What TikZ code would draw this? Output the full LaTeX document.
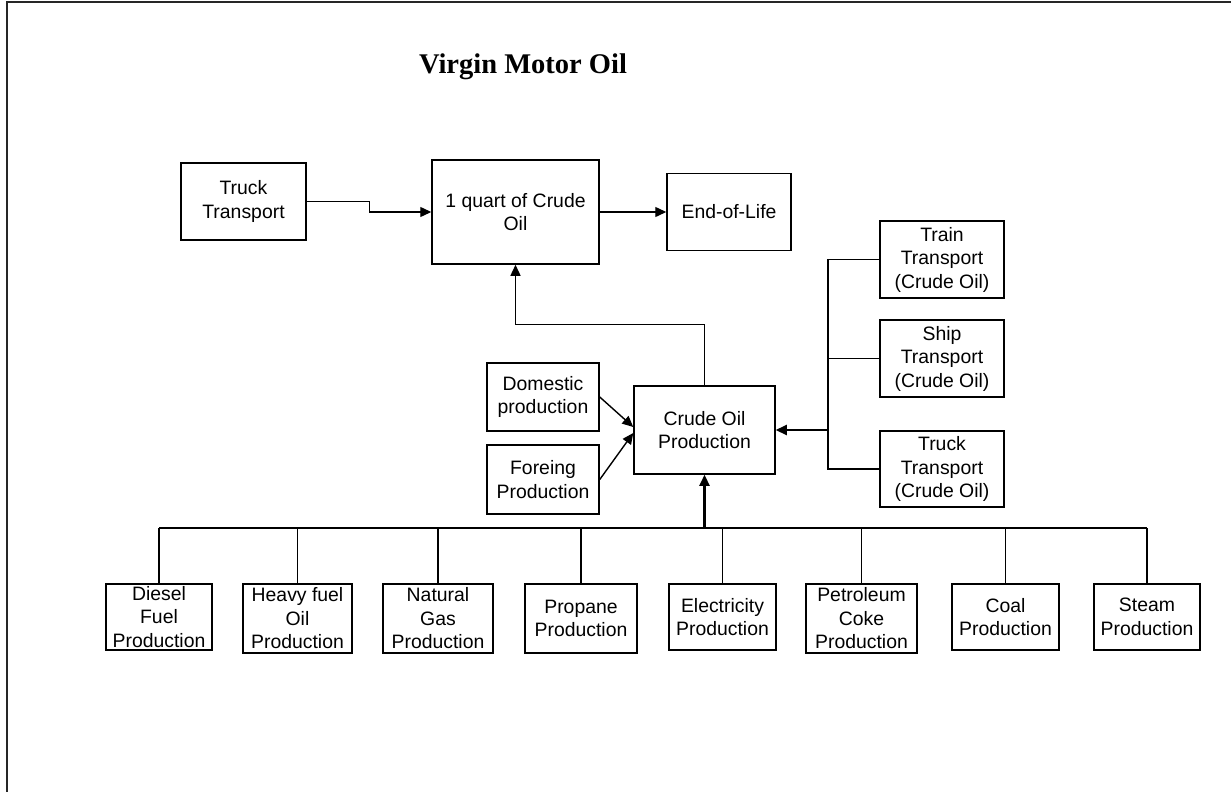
\documentclass[tikz,border=0pt]{standalone}
\usepackage{fontspec}
\setmainfont{Liberation Serif}
\newfontfamily\arialfont{Liberation Sans}
\usetikzlibrary{arrows.meta}
\tikzset{
  boxnode/.style={draw=black, line width=1.5pt, inner sep=0pt, align=center,
    font=\arialfont\fontsize{19.4}{23.5}\selectfont},
  link/.style={draw=black, line width=1.4pt},
  arr/.style={link, -{Triangle[length=11pt,width=10pt]}},
  thickarr/.style={draw=black, line width=2.2pt, -{Triangle[length=11pt,width=10pt]}},
  frameline/.style={draw=black!85, line width=2pt}
}
\begin{document}
\begin{tikzpicture}[x=1pt,y=-1pt]
\useasboundingbox (0,0) rectangle (1231,792);
% frame (top and left edges only)
\coordinate (fTL) at (6.5,1.8);
\coordinate (fTR) at (1231,1.8);
\coordinate (fBL) at (6.5,792);
\draw[frameline] (fTR) -- (fTL) -- (fBL);

% title
\node[anchor=base, inner sep=0pt, font=\fontsize{28.5}{32}\selectfont\bfseries] (title) at (523,74) {Virgin Motor Oil};

% upper row
\node[boxnode, minimum width=125pt, minimum height=77pt] (truck) at (243.5,201.5) {Truck\\Transport};
\node[boxnode, minimum width=167pt, minimum height=104pt] (quart) at (515.5,212) {1 quart of Crude\\Oil};
\node[boxnode, minimum width=124pt, minimum height=77pt] (eol) at (729,212) {End-of-Life};

% right transport boxes
\node[boxnode, minimum width=124pt, minimum height=77pt] (train) at (942,259.5) {Train\\Transport\\(Crude Oil)};
\node[boxnode, minimum width=124pt, minimum height=77pt] (ship) at (942,358.5) {Ship\\Transport\\(Crude Oil)};
\node[boxnode, minimum width=124pt, minimum height=76pt] (trk2) at (942,469) {Truck\\Transport\\(Crude Oil)};

% middle
\node[boxnode, minimum width=141pt, minimum height=88pt] (crude) at (704.5,430) {Crude Oil\\Production};
\node[boxnode, minimum width=112pt, minimum height=68pt] (dom) at (543,397) {Domestic\\production};
\node[boxnode, minimum width=112pt, minimum height=69pt] (for) at (543,479.5) {Foreing\\Production};

% bottom row
\node[boxnode, minimum width=106pt, minimum height=66pt] (diesel) at (159,617) {Diesel\\Fuel\\Production};
\node[boxnode, minimum width=109pt, minimum height=69pt] (heavy) at (297.5,618.5) {Heavy fuel\\Oil\\Production};
\node[boxnode, minimum width=110pt, minimum height=69pt] (natgas) at (438,618.5) {Natural\\Gas\\Production};
\node[boxnode, minimum width=112pt, minimum height=69pt] (propane) at (581,618.5) {Propane\\Production};
\node[boxnode, minimum width=107pt, minimum height=66pt] (elec) at (722.5,617) {Electricity\\Production};
\node[boxnode, minimum width=111pt, minimum height=69pt] (petro) at (861.5,618.5) {Petroleum\\Coke\\Production};
\node[boxnode, minimum width=107pt, minimum height=66pt] (coal) at (1005.5,617) {Coal\\Production};
\node[boxnode, minimum width=106pt, minimum height=66pt] (steam) at (1147,617) {Steam\\Production};

% connectors upper
\draw[arr] (truck.east) -- ++(63,0) |- (quart.west);
\draw[arr] (quart.east) -- (quart.east -| eol.west);
\draw[arr] (crude.north) -- ++(0,-61) -| (quart.south);

% domestic / foreign
\draw[arr] (dom.east) -- ([yshift=3pt]crude.west);
\draw[arr] (for.east) -- ([yshift=-3pt]crude.west);

% transport bus
\coordinate (tb) at (828,430);
\draw[link] (train.west) -- (train.west -| tb) -- (trk2.west -| tb) -- (trk2.west);
\draw[link] (ship.west) -- (ship.west -| tb);
\draw[thickarr] (tb) -- (crude.east);

% bottom bus
\coordinate (busL) at (159,528);
\coordinate (busR) at (1147,528);
\draw[link] (busL) -- (busR);
\foreach \n in {diesel,heavy,natgas,propane,elec,petro,coal,steam}{
  \draw[link] (\n.north) -- (\n.north |- busL);
}
\draw[draw=black, line width=2.2pt] ([xshift=16pt]propane.north |- busL) -- (crude.south |- busL);
\draw[thickarr] (crude.south |- busL) -- (crude.south);
\end{tikzpicture}
\end{document}
